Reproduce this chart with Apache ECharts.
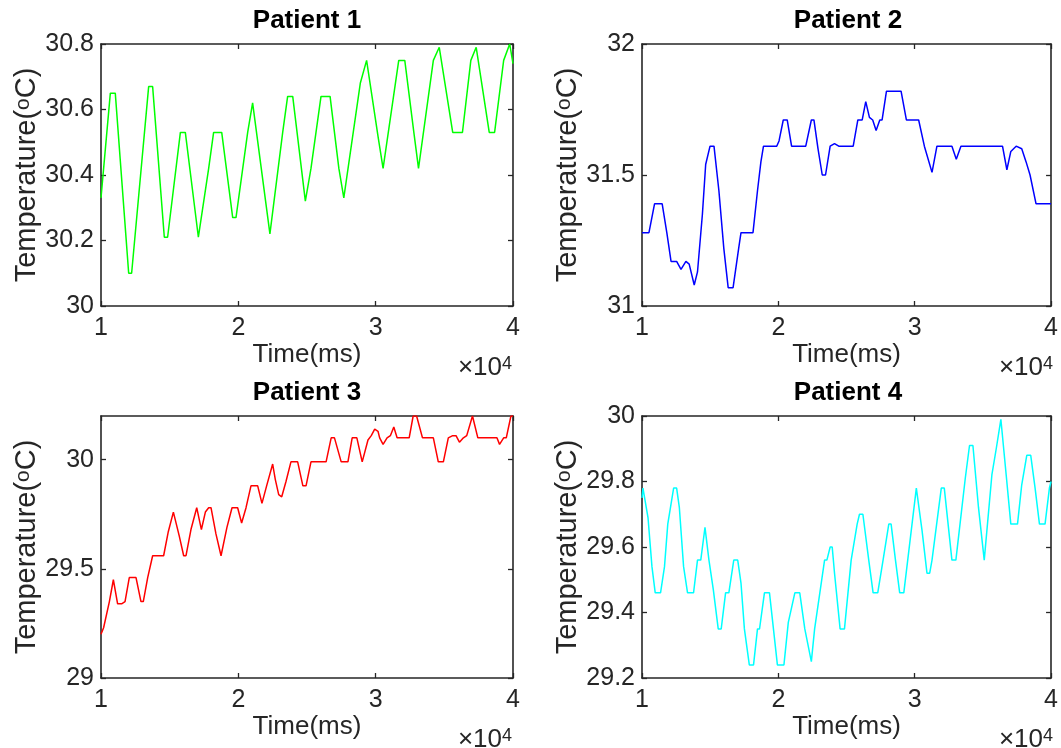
<!DOCTYPE html>
<html>
<head>
<meta charset="utf-8">
<script src="https://cdn.jsdelivr.net/npm/echarts@6/dist/echarts.min.js"></script>
<style>
  html, body { margin: 0; padding: 0; background: #fff; }
  #chart { width: 1061px; height: 748px; }
</style>
</head>
<body>
<div id="chart"></div>
<script>
// values, time in ms, temperature in degC
const p1Time = [10000, 10680, 11040, 12015, 12230, 13470, 13760, 14610, 14850, 15780, 16140, 17090, 17840, 18200, 18790,
    19590, 19830, 20680, 21040, 22300, 23230, 23590, 23960, 24880, 25290, 26020, 26680, 27320, 27680, 28880, 29340,
    30200, 30540, 31680, 32120, 32780, 33120, 34200, 34630, 35610, 36320, 36930, 37320, 38270, 38660, 39320, 39760, 40000];
const p1Temp = [30.33, 30.65, 30.65, 30.10, 30.10, 30.67, 30.67, 30.21, 30.21, 30.53, 30.53, 30.21, 30.42, 30.53, 30.53,
    30.27, 30.27, 30.53, 30.62, 30.22, 30.53, 30.64, 30.64, 30.32, 30.42, 30.64, 30.64, 30.42, 30.33, 30.68, 30.75,
    30.51, 30.42, 30.75, 30.75, 30.53, 30.42, 30.75, 30.79, 30.53, 30.53, 30.75, 30.79, 30.53, 30.53, 30.75, 30.80, 30.74];

const p2Time = [10000, 10510, 10920, 11480, 11820, 12130, 12540, 12860, 13220, 13460, 13830, 14070, 14430, 14670, 14990,
    15280, 15640, 16000, 16320, 16680, 17090, 17260, 18140, 18470, 18720, 18910, 19880, 20050, 20360, 20650, 20970,
    22010, 22420, 22610, 22910, 23220, 23460, 23800, 24120, 24430, 25490, 25830, 26150, 26410, 26680, 26920, 27170,
    27440, 27610, 27930, 29000, 29390, 30290, 30710, 31270, 31630, 32730, 33050, 33390, 36440, 36760, 37050, 37440,
    37850, 38170, 38460, 38900, 40000];
const p2Temp = [31.28, 31.28, 31.39, 31.39, 31.28, 31.17, 31.17, 31.14, 31.17, 31.16, 31.08, 31.13, 31.35, 31.54, 31.61,
    31.61, 31.44, 31.22, 31.07, 31.07, 31.22, 31.28, 31.28, 31.44, 31.55, 31.61, 31.61, 31.63, 31.71, 31.71, 31.61,
    31.61, 31.71, 31.71, 31.60, 31.50, 31.50, 31.61, 31.62, 31.61, 31.61, 31.71, 31.71, 31.78, 31.72, 31.71, 31.67,
    31.71, 31.71, 31.82, 31.82, 31.71, 31.71, 31.61, 31.51, 31.61, 31.61, 31.56, 31.61, 31.61, 31.52, 31.59, 31.61,
    31.60, 31.55, 31.50, 31.39, 31.39];

const p3Time = [10000, 10190, 10610, 10900, 11210, 11500, 11750, 12060, 12550, 12910, 13080, 13400, 13760, 14560, 14900,
    15270, 15700, 16020, 16190, 16550, 16970, 17310, 17600, 17840, 18010, 18370, 18740, 18860, 19170, 19540, 19950,
    20240, 20560, 20920, 21410, 21720, 22060, 22500, 22690, 22940, 23160, 23470, 23830, 24320, 24700, 24930, 25290,
    26390, 26760, 27000, 27490, 27980, 28290, 28630, 29020, 29440, 29680, 29930, 30170, 30290, 30540, 30830, 31070,
    31320, 31560, 32440, 32730, 32980, 33410, 34200, 34560, 34930, 35290, 35610, 35850, 36100, 36390, 36630, 37050,
    37440, 38830, 39020, 39320, 39510, 39850, 40000];
const p3Temp = [29.20, 29.23, 29.35, 29.45, 29.34, 29.34, 29.35, 29.46, 29.46, 29.35, 29.35, 29.46, 29.56, 29.56, 29.67,
    29.76, 29.65, 29.56, 29.56, 29.68, 29.78, 29.68, 29.76, 29.78, 29.78, 29.66, 29.56, 29.56, 29.69, 29.78, 29.78,
    29.71, 29.78, 29.88, 29.88, 29.80, 29.88, 29.98, 29.91, 29.84, 29.83, 29.90, 29.99, 29.99, 29.88, 29.88, 29.99,
    29.99, 30.10, 30.10, 29.99, 29.99, 30.10, 30.10, 29.99, 30.09, 30.11, 30.14, 30.13, 30.10, 30.07, 30.10, 30.11,
    30.15, 30.10, 30.10, 30.20, 30.20, 30.10, 30.10, 29.99, 29.99, 30.10, 30.11, 30.11, 30.08, 30.10, 30.11, 30.20,
    30.10, 30.10, 30.07, 30.10, 30.10, 30.20, 30.20];

const p4Time = [10000, 10070, 10440, 10730, 10970, 11360, 11650, 11890, 12010, 12320, 12540, 12740, 13050, 13340, 13780,
    14070, 14310, 14620, 14910, 15230, 15590, 15810, 16130, 16370, 16730, 17020, 17260, 17510, 17870, 18180, 18470,
    18620, 18980, 19350, 19640, 19930, 20410, 20730, 20850, 21210, 21570, 21940, 22060, 22420, 22660, 22780, 23390,
    23560, 23800, 23950, 24120, 24530, 24850, 25340, 25780, 25950, 26200, 26630, 26950, 27290, 27680, 27780, 28100,
    28270, 28590, 28900, 29200, 30120, 30220, 30540, 30900, 31100, 31270, 31950, 32170, 32730, 33020, 33710, 34020,
    34270, 34680, 35100, 35660, 35980, 36320, 36710, 37050, 37540, 37850, 38220, 38510, 38830, 39150, 39560, 39880, 40000];
const p4Temp = [29.75, 29.78, 29.69, 29.54, 29.46, 29.46, 29.54, 29.67, 29.67, 29.78, 29.78, 29.72, 29.54, 29.46, 29.46,
    29.56, 29.56, 29.66, 29.56, 29.47, 29.35, 29.35, 29.46, 29.46, 29.56, 29.56, 29.49, 29.35, 29.24, 29.24, 29.35,
    29.35, 29.46, 29.46, 29.35, 29.24, 29.24, 29.37, 29.37, 29.46, 29.46, 29.35, 29.35, 29.25, 29.35, 29.35, 29.56,
    29.56, 29.60, 29.60, 29.52, 29.35, 29.35, 29.56, 29.67, 29.70, 29.70, 29.56, 29.46, 29.46, 29.56, 29.56, 29.67,
    29.67, 29.56, 29.46, 29.46, 29.78, 29.78, 29.65, 29.52, 29.52, 29.56, 29.78, 29.78, 29.56, 29.56, 29.81, 29.91,
    29.91, 29.72, 29.56, 29.82, 29.90, 29.99, 29.82, 29.67, 29.67, 29.79, 29.88, 29.88, 29.78, 29.67, 29.67, 29.78, 29.80];

const titles = ['Patient 1', 'Patient 2', 'Patient 3', 'Patient 4'];
const colors = ['#00ff00', '#0000ff', '#ff0000', '#00ffff'];
const xTicks = [10000, 20000, 30000, 40000];
const yRanges = [[30, 30.8], [31, 32], [29, 30.2], [29.2, 30]];
const yTicks = [
    [30, 30.2, 30.4, 30.6, 30.8],
    [31, 31.5, 32],
    [29, 29.5, 30],
    [29.2, 29.4, 29.6, 29.8, 30]
];
const times = [p1Time, p2Time, p3Time, p4Time];
const temps = [p1Temp, p2Temp, p3Temp, p4Temp];

const font = '"Liberation Sans", Arial, Helvetica, sans-serif';
const ink = '#262626';
const boxes = [
    {left: 101, top: 44}, {left: 642, top: 44},
    {left: 101, top: 416}, {left: 642, top: 416}
];
const W = 412, H = 262;

const grid = [], xAxis = [], yAxis = [], series = [], title = [], graphic = [];
const line = {show: true, lineStyle: {color: ink, width: 1.6}};
const tick = {inside: true, length: 5, lineStyle: {color: ink, width: 1.3}};

boxes.forEach((b, i) => {
    grid.push({left: b.left, top: b.top, width: W, height: H, show: false});
    const [ymin, ymax] = yRanges[i];
    // bottom + top x axes and left + right y axes make the box
    xAxis.push({
        gridIndex: i, type: 'value', position: 'bottom', min: 10000, max: 40000,
        axisLine: line, splitLine: {show: false},
        axisTick: {...tick, customValues: xTicks},
        axisLabel: {customValues: xTicks, formatter: v => String(v / 10000), margin: 10,
            fontSize: 25, color: ink, fontFamily: font},
        name: 'Time(ms)', nameLocation: 'middle', nameGap: 30,
        nameTextStyle: {fontSize: 26, color: ink, fontFamily: font}
    });
    xAxis.push({
        gridIndex: i, type: 'value', position: 'top', min: 10000, max: 40000,
        axisLine: line, splitLine: {show: false},
        axisTick: {...tick, customValues: xTicks},
        axisLabel: {show: false}
    });
    yAxis.push({
        gridIndex: i, type: 'value', position: 'left', min: ymin, max: ymax,
        axisLine: line, splitLine: {show: false},
        axisTick: {...tick, customValues: yTicks[i]},
        axisLabel: {customValues: yTicks[i], margin: 7, fontSize: 25, color: ink, fontFamily: font},
        name: 'Temperature({s|o}C)', nameLocation: 'middle', nameGap: 58,
        nameTextStyle: {fontSize: 29, color: ink, fontFamily: font,
            rich: {s: {fontSize: 21, color: ink, fontFamily: font, verticalAlign: 'top', lineHeight: 16}}}
    });
    yAxis.push({
        gridIndex: i, type: 'value', position: 'right', min: ymin, max: ymax,
        axisLine: line, splitLine: {show: false},
        axisTick: {...tick, customValues: yTicks[i]},
        axisLabel: {show: false}
    });
    series.push({
        type: 'line', xAxisIndex: 2 * i, yAxisIndex: 2 * i,
        data: times[i].map((t, k) => [t, temps[i][k]]),
        showSymbol: false, symbol: 'none', silent: true, clip: true,
        lineStyle: {color: colors[i], width: 1.5}
    });
    title.push({
        text: titles[i], left: b.left + W / 2, top: b.top - 36, textAlign: 'center', padding: 0,
        textStyle: {fontSize: 26, fontWeight: 'bold', color: '#000', fontFamily: font}
    });
    graphic.push({
        type: 'text', right: 1061 - (b.left + W) + 1, top: b.top + H + 49,
        style: {
            text: '×10{s|4}', fill: ink, font: '26px ' + font,
            rich: {s: {fontSize: 18, fontFamily: font, fill: ink, verticalAlign: 'top', lineHeight: 14}}
        }
    });
});

const chart = echarts.init(document.getElementById('chart'), null, {renderer: 'canvas'});
chart.setOption({
    animation: false,
    backgroundColor: '#fff',
    title, grid, xAxis, yAxis, series, graphic
});
</script>
</body>
</html>
